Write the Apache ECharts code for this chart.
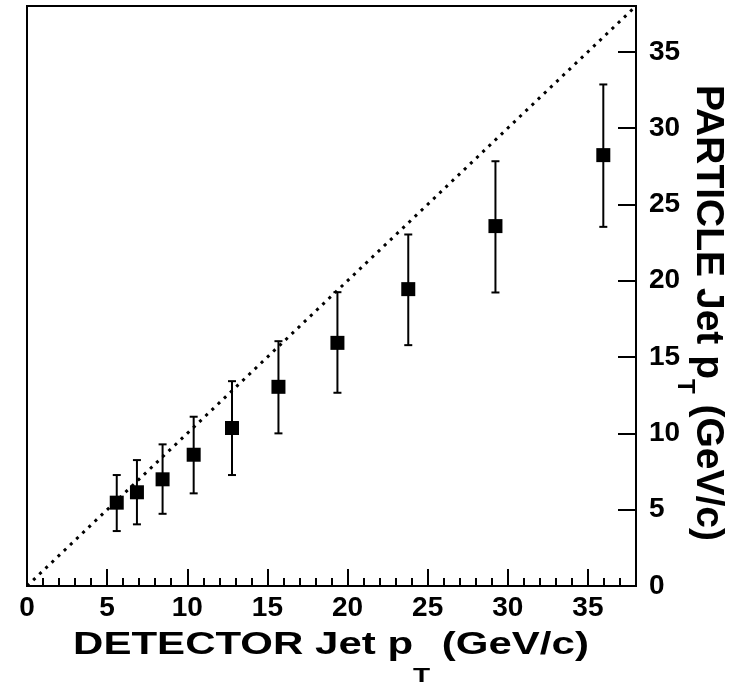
<!DOCTYPE html>
<html>
<head>
<meta charset="utf-8">
<script src="https://cdn.jsdelivr.net/npm/echarts@6/dist/echarts.min.js"></script>
<style>
html,body{margin:0;padding:0;background:#fff;}
#chart{width:743px;height:683px;}
</style>
</head>
<body>
<div id="chart"></div>
<script>
// Detector-level jet pT (x) and particle-level jet pT (y) with error bar extents
var detectorPt = [5.60, 6.86, 8.46, 10.40, 12.79, 15.69, 19.37, 23.79, 29.23, 35.96];
var particlePt = [5.46, 6.14, 6.99, 8.60, 10.35, 13.05, 15.93, 19.45, 23.58, 28.23];
var particleHigh = [7.27, 8.25, 9.28, 11.09, 13.42, 16.04, 19.25, 23.03, 27.83, 32.86];
var particleLow = [3.60, 4.04, 4.73, 6.07, 7.27, 10.00, 12.66, 15.78, 19.23, 23.53];
// y = x reference line endpoints
var diagonal = [[0, 0], [38, 38]];
var xTitleMain = 'DETECTOR Jet p';
var yTitleMain = 'PARTICLE Jet p';
var titleSub = 'T';
var titleUnit = ' (GeV/c)';

var FONT = '"Liberation Sans", Arial, Helvetica, sans-serif';

var points = detectorPt.map(function (x, i) { return [x, particlePt[i]]; });
var bars = detectorPt.map(function (x, i) { return [x, particleLow[i], particleHigh[i]]; });

var mctx = document.createElement('canvas').getContext('2d');
function textW(str, size) {
  mctx.font = 'bold ' + size + 'px ' + FONT;
  return mctx.measureText(str).width;
}

// x-axis title pieces (horizontal, slightly squashed vertically)
var XF = 42, XSF = 28, XSY = 0.75;
var xw1 = textW(xTitleMain, XF), xw2 = textW(titleSub, XSF), xw3 = textW(titleUnit, XF);
var xStart = 331 - (xw1 + xw2 + xw3) / 2;
var xBase = 653, xSubBase = 681;
// y-axis title pieces (rotated clockwise)
var YF = 39, YSF = 24;
var yw1 = textW(yTitleMain, YF), yw2 = textW(titleSub, YSF), yw3 = textW(titleUnit, YF);
var yStart = 313 - (yw1 + yw2 + yw3) / 2;
var yBase = 698, ySubBase = 679;

function hText(str, x, baseline, size, sy) {
  return {
    type: 'text', x: x, y: baseline - 0.25 * size * sy, scaleY: sy, z: 10, silent: true,
    style: {text: str, fontFamily: FONT, fontWeight: 'bold', fontSize: size, fill: '#000', textAlign: 'left', textVerticalAlign: 'middle'}
  };
}
function vText(str, pos, baseline, size) {
  return {
    type: 'text', x: baseline + 0.25 * size, y: pos, rotation: -Math.PI / 2, z: 10, silent: true,
    style: {text: str, fontFamily: FONT, fontWeight: 'bold', fontSize: size, fill: '#000', textAlign: 'left', textVerticalAlign: 'middle'}
  };
}

var chart = echarts.init(document.getElementById('chart'), null, {renderer: 'canvas'});

function fmt5(v) { return (Math.abs(v % 5) < 1e-9) ? String(v) : ''; }

var option = {
  animation: false,
  backgroundColor: '#ffffff',
  grid: {left: 27, right: 107, top: 6, bottom: 97, show: true, borderColor: '#000', borderWidth: 2, backgroundColor: 'transparent'},
  xAxis: [
    {
      type: 'value', min: 0, max: 38, interval: 5, position: 'bottom',
      axisLine: {onZero: false, lineStyle: {color: '#000', width: 2}},
      axisTick: {inside: true, length: 17, lineStyle: {color: '#000', width: 2}},
      axisLabel: {formatter: fmt5, color: '#000', fontFamily: FONT, fontWeight: 'bold', fontSize: 28, margin: 8},
      splitLine: {show: false}
    },
    {
      type: 'value', min: 0, max: 38, interval: 1, position: 'bottom',
      axisLine: {show: false, onZero: false},
      axisTick: {inside: true, length: 8, lineStyle: {color: '#000', width: 2}},
      axisLabel: {show: false},
      splitLine: {show: false}
    }
  ],
  yAxis: {
    type: 'value', min: 0, max: 38, interval: 5, position: 'right',
    axisLine: {show: true, onZero: false, lineStyle: {color: '#000', width: 2}},
    axisTick: {inside: true, length: 18, lineStyle: {color: '#000', width: 2}},
    axisLabel: {formatter: fmt5, color: '#000', fontFamily: FONT, fontWeight: 'bold', fontSize: 28, margin: 13},
    splitLine: {show: false}
  },
  series: [
    {
      type: 'line', data: diagonal, symbol: 'none', silent: true, z: 1,
      lineStyle: {color: '#000', width: 3, type: [3, 5.5], cap: 'butt'}
    },
    {
      type: 'custom', data: bars, z: 2, silent: true,
      renderItem: function (params, api) {
        var x = api.value(0);
        var lo = api.coord([x, api.value(1)]);
        var hi = api.coord([x, api.value(2)]);
        var cap = 4;
        var st = {stroke: '#000', lineWidth: 2};
        return {
          type: 'group',
          children: [
            {type: 'line', shape: {x1: lo[0], y1: lo[1], x2: hi[0], y2: hi[1]}, style: st},
            {type: 'line', shape: {x1: lo[0] - cap, y1: lo[1], x2: lo[0] + cap, y2: lo[1]}, style: st},
            {type: 'line', shape: {x1: hi[0] - cap, y1: hi[1], x2: hi[0] + cap, y2: hi[1]}, style: st}
          ]
        };
      }
    },
    {
      type: 'scatter', data: points, symbol: 'rect', symbolSize: 14, z: 3,
      itemStyle: {color: '#000', opacity: 1}
    }
  ],
  graphic: [
    hText(xTitleMain, xStart, xBase, XF, XSY),
    hText(titleSub, xStart + xw1, xSubBase, XSF, XSY),
    hText(titleUnit, xStart + xw1 + xw2, xBase, XF, XSY),
    vText(yTitleMain, yStart, yBase, YF),
    vText(titleSub, yStart + yw1, ySubBase, YSF),
    vText(titleUnit, yStart + yw1 + yw2, yBase, YF)
  ]
};
chart.setOption(option);
</script>
</body>
</html>
